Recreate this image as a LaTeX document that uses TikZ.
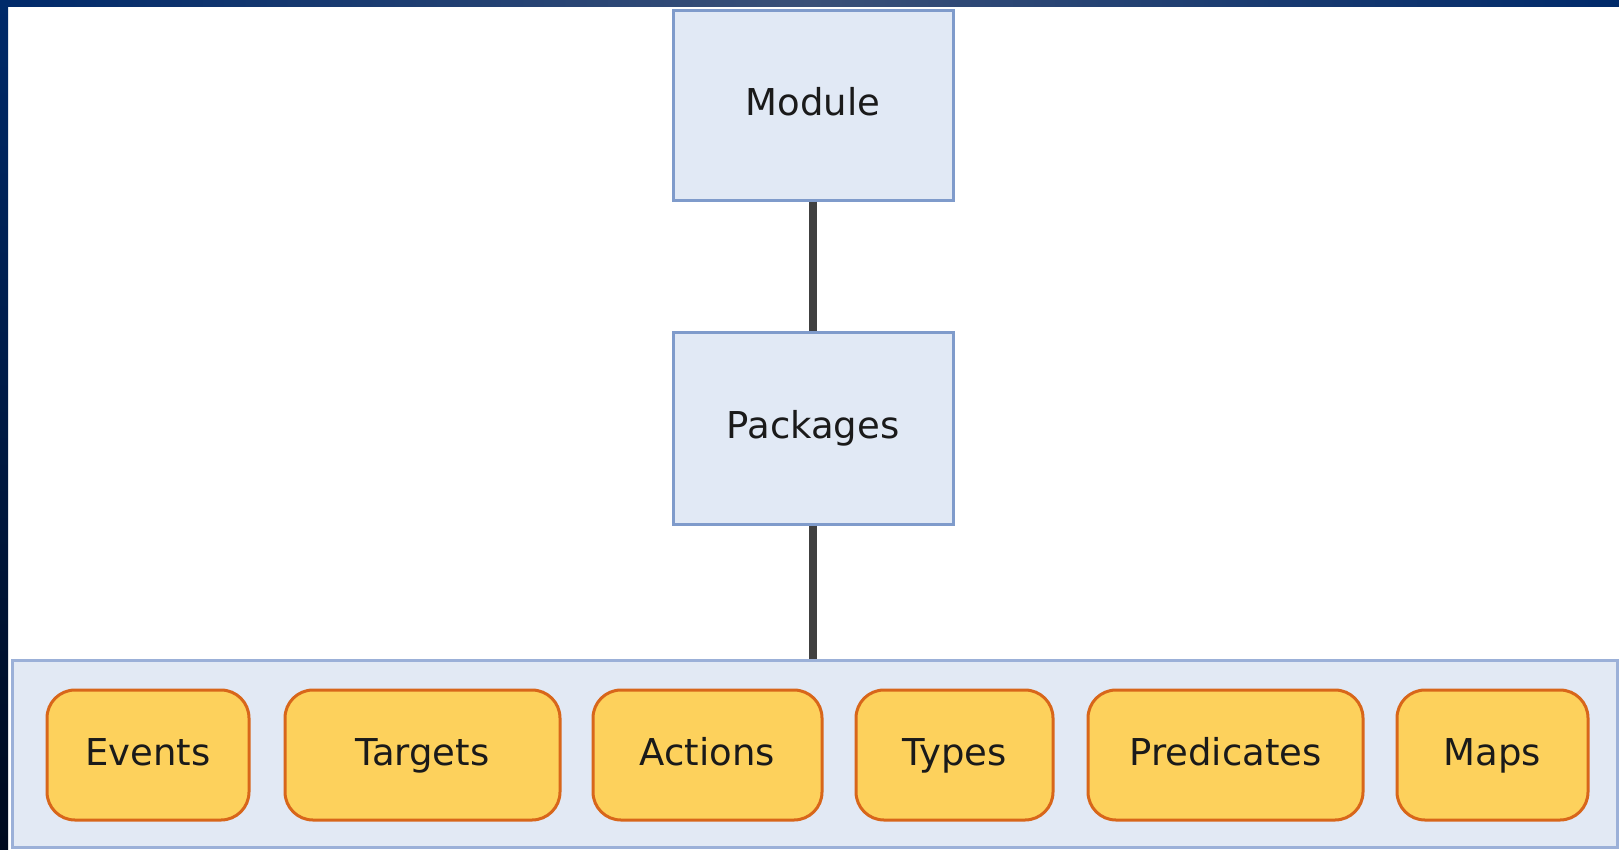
\documentclass[tikz,border=0pt]{standalone}
\usepackage{fontspec}
\setmainfont{DejaVu Sans}
\usetikzlibrary{positioning}
\definecolor{navy}{HTML}{002A6A}
\definecolor{navydark}{HTML}{000A1E}
\definecolor{topbar}{HTML}{3A5078}
\definecolor{boxfill}{HTML}{E1E9F5}
\definecolor{boxline}{HTML}{7F9BCB}
\definecolor{panelfill}{HTML}{E2E9F4}
\definecolor{panelline}{HTML}{9BB0D8}
\definecolor{orfill}{HTML}{FDD15C}
\definecolor{orline}{HTML}{D8661A}
\definecolor{conn}{HTML}{404040}
\definecolor{txt}{HTML}{1A1A1A}
\begin{document}
\begin{tikzpicture}[x=1pt,y=-1pt,
  bluebox/.style={draw=boxline,fill=boxfill,line width=3pt,minimum width=280pt,minimum height=190pt,inner sep=0pt,text=txt,font=\fontsize{37}{44}\selectfont,text height=27pt,text depth=7pt},
  orbox/.style={draw=orline,fill=orfill,line width=3pt,rounded corners=28pt,minimum height=130pt,inner sep=0pt,text=txt,font=\fontsize{37}{44}\selectfont,text height=27pt,text depth=7pt},
  connector/.style={draw=conn,line width=8pt}]
\useasboundingbox (0,0) rectangle (1619,849);
\fill[white] (0,0) rectangle (1619,849);
% frame bars
\shade[top color=navy,bottom color=navydark] (0,0) rectangle (8,849);
\shade[left color=navy,right color=topbar] (0,0) rectangle (810,6);
\shade[left color=topbar,right color=navy] (810,0) rectangle (1619,6);
% panel
\node[draw=panelline,fill=panelfill,line width=3pt,minimum width=1605pt,minimum height=187pt,inner sep=0pt] (panel) at (814.5,753.5) {};
% top boxes
\node[bluebox,minimum height=190pt] (module) at (813,105) {Module};
\node[bluebox,minimum height=192pt] (packages) at (813,428) {Packages};
% orange boxes
\node[orbox,minimum width=202pt] (events) at (148,755) {Events};
\node[orbox,minimum width=275pt] (targets) at (422.5,755) {Targets};
\node[orbox,minimum width=229pt] (actions) at (707.5,755) {Actions};
\node[orbox,minimum width=197pt] (types) at (954.5,755) {Types};
\node[orbox,minimum width=275pt] (predicates) at (1225.5,755) {Predicates};
\node[orbox,minimum width=191pt] (maps) at (1492.5,755) {Maps};
% connectors
\draw[connector] (module.south) -- (packages.north);
\draw[connector] (packages.south) -- (packages.south |- panel.north);
\end{tikzpicture}
\end{document}
